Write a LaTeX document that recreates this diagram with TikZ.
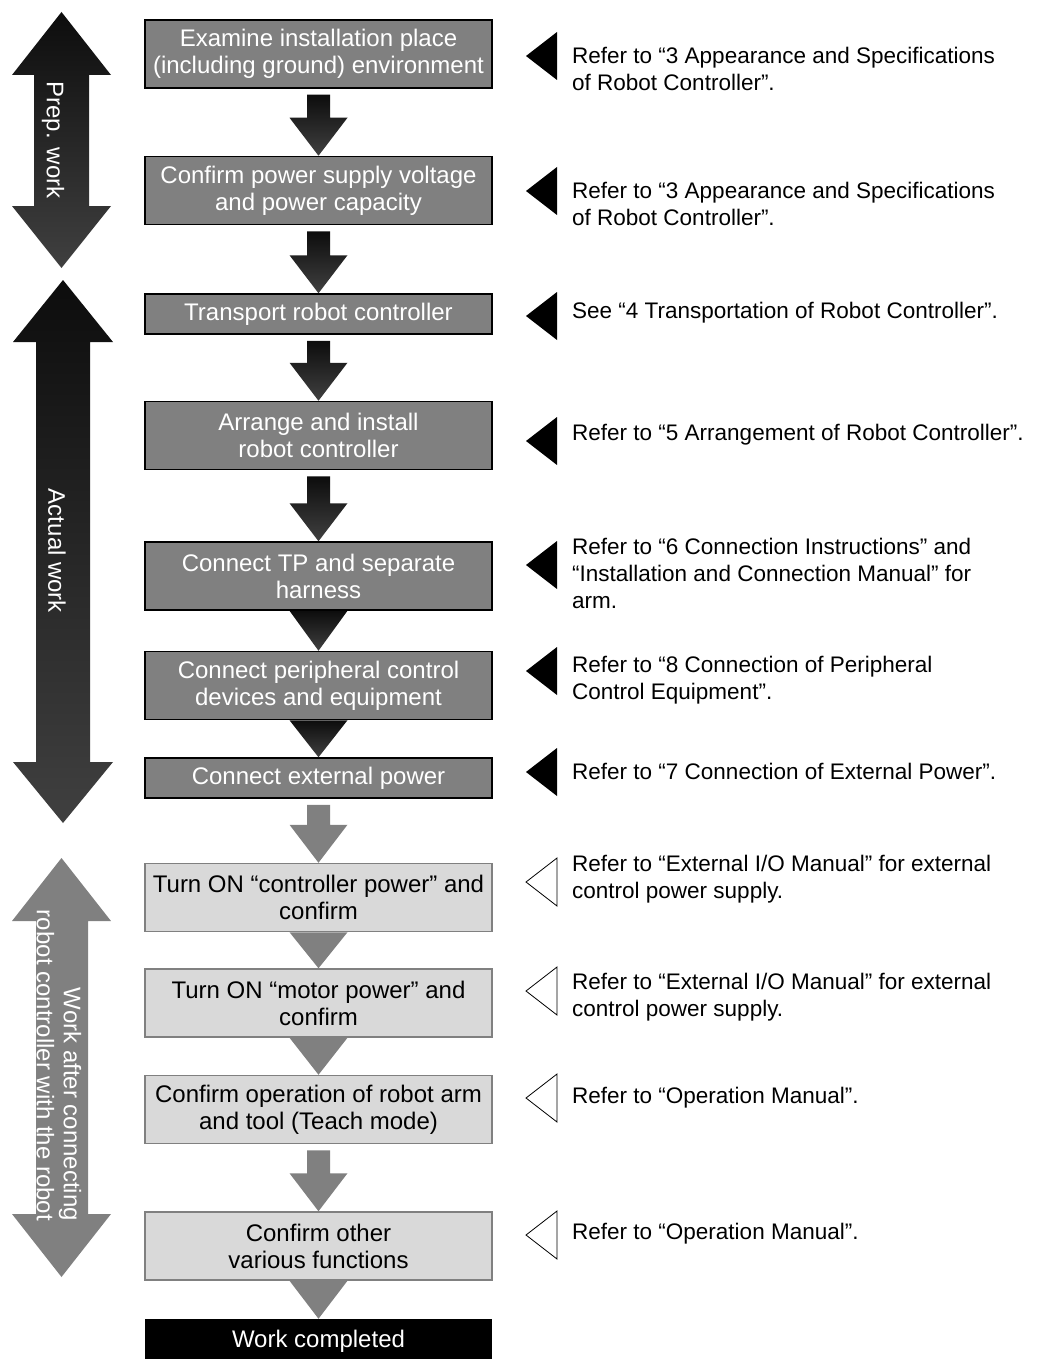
\documentclass[tikz,border=0pt]{standalone}
\usepackage{fontspec}
\setmainfont{Liberation Sans}
\usetikzlibrary{calc,positioning}
\definecolor{boxgray}{gray}{0.5}
\definecolor{lightbox}{gray}{0.85}
\definecolor{darkend}{gray}{0.25}
\tikzset{
  stepnode/.style = {align=center, inner sep=0pt, text centered,
    minimum width=347pt, font=\fontsize{24}{27}\selectfont},
  darkstep/.style = {stepnode, draw=black, fill=boxgray, text=white,
    line width=1.5pt},% done before the robot is connected
  lightstep/.style = {stepnode, draw=boxgray, fill=lightbox, text=black,
    line width=1.5pt},% done with the robot connected
  endstep/.style = {stepnode, fill=black, text=white},
  tall/.style = {minimum height=68pt},
  short/.style = {minimum height=40pt},
  notetext/.style = {anchor=west, align=left, inner sep=0pt,
    font=\fontsize{22.5}{27}\selectfont},
  sidetext/.style = {rotate=-90, text=white, inner sep=0pt,
    font=\fontsize{24}{27}\selectfont},
  darkflow/.style = {top color=black!95, bottom color=darkend},
  grayflow/.style = {fill=boxgray},
  blackmark/.style = {fill=black},
  whitemark/.style = {draw=black, fill=white, line width=0.8pt}
}
% fat arrow with shaft, and head only
\newcommand{\fatflow}[3]{%
  \path[#1] ($(#2.south)+(-11.5,-6)$) -- ($(#2.south)+(11.5,-6)$)
    -- ($(#3.north)+(11.5,38)$) -- ($(#3.north)+(29,38)$) -- (#3.north)
    -- ($(#3.north)+(-29,38)$) -- ($(#3.north)+(-11.5,38)$) -- cycle;}
\newcommand{\headflow}[3]{%
  \path[#1] ($(#2.south)+(-29,0)$) -- ($(#2.south)+(29,0)$) -- (#3.north) -- cycle;}
% triangle mark and reference text on the right
\newcommand{\refnote}[5]{%
  \path[#4] (557,-#2+24) -- (526,-#2) -- (557,-#2-24) -- cycle;
  \node[notetext] (#1) at (572,-#3) {#5};}

\begin{document}
\begin{tikzpicture}[x=1pt, y=1pt]
\useasboundingbox (0,0) rectangle (1057,-1359);
% left brackets
\path[darkflow] (61.5,-12) -- (111,-75) -- (89,-75) -- (89,-206) -- (111,-206)
  -- (61.5,-268) -- (12,-206) -- (34,-206) -- (34,-75) -- (12,-75) -- cycle;
\path[darkflow] (63,-280) -- (113,-342) -- (90,-342) -- (90,-762) -- (113,-762)
  -- (63,-823) -- (13,-762) -- (36,-762) -- (36,-342) -- (13,-342) -- cycle;
\path[grayflow] (61.5,-858) -- (111,-921) -- (88,-921) -- (88,-1214) -- (111,-1214)
  -- (61.5,-1277) -- (12,-1214) -- (36,-1214) -- (36,-921) -- (12,-921) -- cycle;
\node[sidetext] (prepwork) at (53,-140) {Prep. work};
\node[sidetext] (actualwork) at (57,-551) {Actual work};
\node[sidetext, align=right, anchor=east] (afterwork) at (59,-1221)
  {Work after connecting\\robot controller with the robot};

% steps
\node[darkstep, tall] (place) at (318.5,-54) {Examine installation place\\(including ground) environment};
\node[darkstep, tall, below=67pt of place] (supply) {Confirm power supply voltage\\and power capacity};
\node[darkstep, short, below=68pt of supply] (transport) {Transport robot controller};
\node[darkstep, tall, below=66pt of transport] (install) {Arrange and install\\robot controller};
\node[darkstep, tall, below=71pt of install] (harness) {Connect TP and separate\\harness};
\node[darkstep, tall, below=40pt of harness] (periph) {Connect peripheral control\\devices and equipment};
\node[darkstep, short, below=37pt of periph] (extpower) {Connect external power};
\node[lightstep, tall, below=64pt of extpower] (ctrlon) {Turn ON “controller power” and\\confirm};
\node[lightstep, tall, below=36pt of ctrlon] (motoron) {Turn ON “motor power” and\\confirm};
\node[lightstep, tall, below=37pt of motoron] (teach) {Confirm operation of robot arm\\and tool (Teach mode)};
\node[lightstep, tall, below=67pt of teach] (others) {Confirm other\\various functions};
\node[endstep, minimum height=44pt, below=38pt of others] (done) {Work completed};

\fatflow{darkflow}{place}{supply}
\fatflow{darkflow}{supply}{transport}
\fatflow{darkflow}{transport}{install}
\fatflow{darkflow}{install}{harness}
\headflow{darkflow}{harness}{periph}
\headflow{darkflow}{periph}{extpower}
\fatflow{grayflow}{extpower}{ctrlon}
\headflow{grayflow}{ctrlon}{motoron}
\headflow{grayflow}{motoron}{teach}
\fatflow{grayflow}{teach}{others}
\headflow{grayflow}{others}{done}

% references
\refnote{placeref}{56}{68.5}{blackmark}{Refer to “3 Appearance and Specifications\\of Robot Controller”.}
\refnote{supplyref}{191}{203.5}{blackmark}{Refer to “3 Appearance and Specifications\\of Robot Controller”.}
\refnote{transportref}{316}{313}{blackmark}{See “4 Transportation of Robot Controller”.}
\refnote{installref}{441}{435}{blackmark}{Refer to “5 Arrangement of Robot Controller”.}
\refnote{harnessref}{565}{573.5}{blackmark}{Refer to “6 Connection Instructions” and\\“Installation and Connection Manual” for\\arm.}
\refnote{periphref}{671}{680.5}{blackmark}{Refer to “8 Connection of Peripheral\\Control Equipment”.}
\refnote{extpowerref}{772}{771}{blackmark}{Refer to “7 Connection of External Power”.}
\refnote{ctrlonref}{882}{879}{whitemark}{Refer to “External I/O Manual” for external\\control power supply.}
\refnote{motoronref}{991}{997}{whitemark}{Refer to “External I/O Manual” for external\\control power supply.}
\refnote{teachref}{1098}{1098}{whitemark}{Refer to “Operation Manual”.}
\refnote{othersref}{1235}{1234}{whitemark}{Refer to “Operation Manual”.}
\end{tikzpicture}
\end{document}
